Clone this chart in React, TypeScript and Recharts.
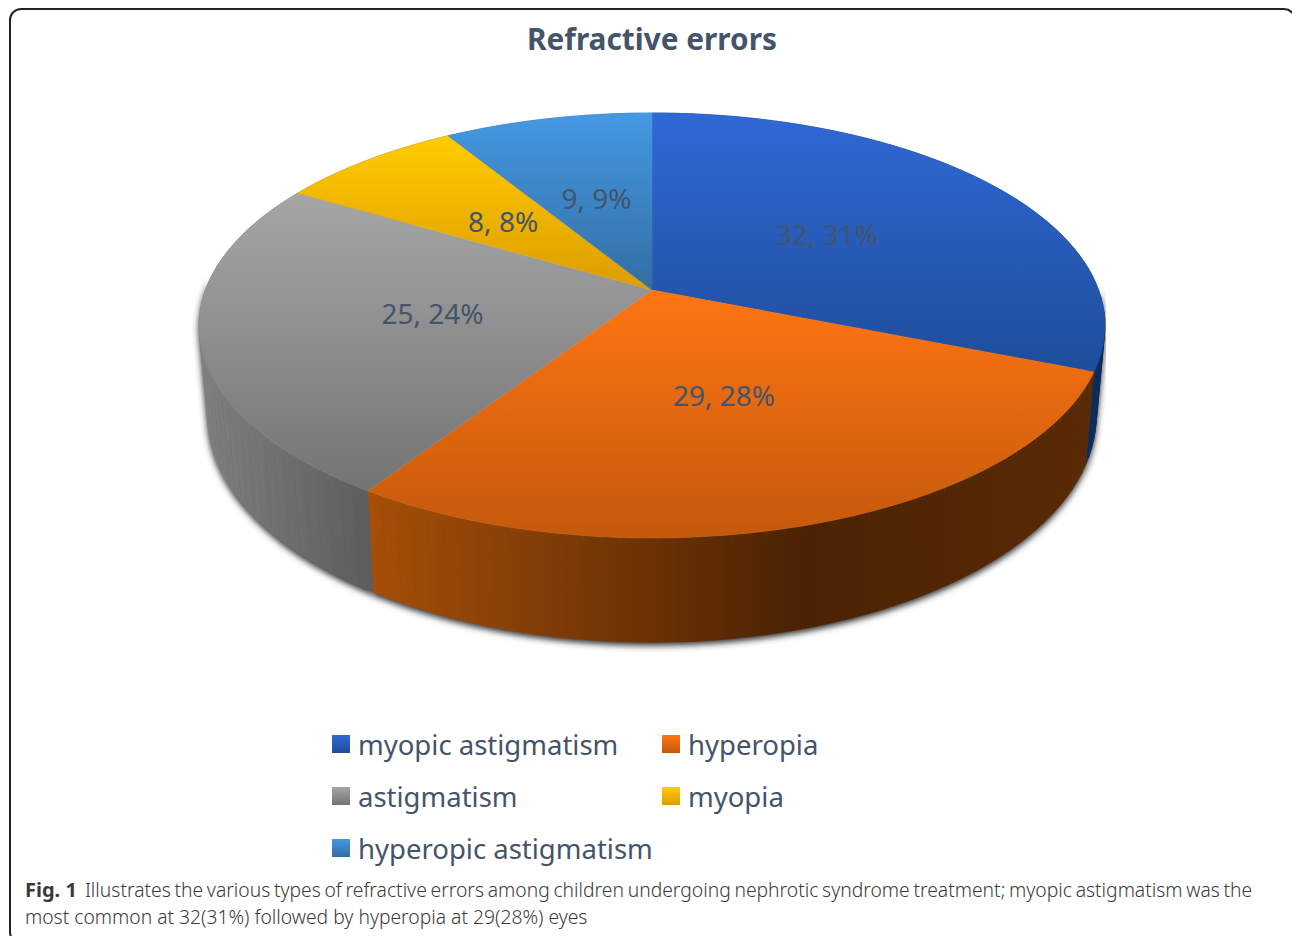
import React from 'react';
import { PieChart, Pie, Legend } from 'recharts';

const categories = ['myopic astigmatism', 'hyperopia', 'astigmatism', 'myopia', 'hyperopic astigmatism'];
const eyeCounts = [32, 29, 25, 8, 9];
const topStart = ['#2f69d6', '#ff7512', '#a6a6a6', '#ffcc00', '#4599e3'];
const topEnd = ['#1f4d9a', '#c4590c', '#747474', '#dc9c00', '#326ea3'];
const wallStops = [
  ['#0b2a5e', '#0b2a5e'],
  ['#a64f08', '#4b2203', '#5a2a05'],
  ['#808080', '#5c5c5c'],
  ['#a87c00', '#8a6400'],
  ['#2a6aa8', '#2a6aa8'],
];
// horizontal span of each slice's side wall, for its shading
const wallSpan = [[1085, 1106], [368, 1090], [200, 374], [290, 450], [450, 652]];
const caption1 = 'Illustrates the various types of refractive errors among children undergoing nephrotic syndrome treatment; myopic astigmatism was the';
const caption2 = 'most common at 32(31%) followed by hyperopia at 29(28%) eyes';

const pieData = categories.map((name, i) => ({ name, value: eyeCounts[i] }));
const font = '"Noto Sans", sans-serif';
const textColor = '#44546a';

// the pie is tilted in perspective, so the flat circle gets projected onto the page
const TILT = -0.167;
const SQUASH = 0.4626;
const project = (cx: number, cy: number, radius: number, theta: number, amount = 1) => {
  const rad = (theta * Math.PI) / 180;
  const u = Math.sin(rad) * amount;
  const v = -Math.cos(rad) * amount;
  const d = 1 + TILT * v;
  return { x: cx + (radius * u) / d, y: cy + (radius * SQUASH * v) / d };
};
const projectBase = (cx: number, cy: number, radius: number, theta: number) => {
  const p = project(cx, cy, radius, theta);
  return { x: cx + (p.x - cx) * 0.981, y: cy + (p.y - cy) * 1.066 + 88 };
};

const rim = (cx: number, cy: number, radius: number, from: number, to: number) => {
  const steps = Math.max(2, Math.ceil(Math.abs(to - from)));
  const out = [];
  for (let i = 0; i <= steps; i++) {
    const p = project(cx, cy, radius, from + ((to - from) * i) / steps);
    out.push(`${p.x.toFixed(2)} ${p.y.toFixed(2)}`);
  }
  return out;
};

const TopFace = (props: any) => {
  const { cx, cy, outerRadius, startAngle, endAngle, name } = props;
  const pts = rim(cx, cy, outerRadius, 90 - startAngle, 90 - endAngle);
  const paint = `url(#top${categories.indexOf(name)})`;
  return <path d={`M${cx} ${cy}L${pts.join('L')}Z`} fill={paint} stroke={paint} strokeWidth={0.5} />;
};

// side wall as small quads, the outline of one polygon would pinch where the two rims cross
const wallQuads = (props: any) => {
  const { cx, cy, outerRadius, startAngle, endAngle } = props;
  const from = 90 - startAngle;
  const to = 90 - endAngle;
  const steps = Math.max(1, Math.ceil((to - from) / 2));
  const quads: any[] = [];
  for (let i = 0; i < steps; i++) {
    const a = from + ((to - from) * i) / steps;
    const b = from + ((to - from) * (i + 1)) / steps;
    const p1 = project(cx, cy, outerRadius, a);
    const p2 = project(cx, cy, outerRadius, b);
    const p3 = projectBase(cx, cy, outerRadius, b);
    const p4 = projectBase(cx, cy, outerRadius, a);
    quads.push({ mid: (a + b) / 2, d: `M${p1.x} ${p1.y}L${p2.x} ${p2.y}L${p3.x} ${p3.y}L${p4.x} ${p4.y}Z` });
  }
  return quads;
};

const Wall = (props: any) => {
  const paint = `url(#wall${categories.indexOf(props.name)})`;
  return (
    <g>
      {wallQuads(props).map((q, i) => (
        <path key={i} d={q.d} fill={paint} stroke={paint} strokeWidth={0.5} />
      ))}
    </g>
  );
};

// only the front half throws a shadow, nothing shows round the back rim
const WallShadow = (props: any) => (
  <g filter="url(#baseShadow)">
    {wallQuads(props)
      .filter((q) => q.mid > 90 && q.mid < 272)
      .map((q, i) => (
        <path key={i} d={q.d} fill="#333" stroke="#333" strokeWidth={0.5} />
      ))}
  </g>
);

const renderLabel = (props: any) => {
  const { cx, cy, outerRadius, midAngle, value, percent } = props;
  const p = project(cx, cy, outerRadius, 90 - midAngle, 0.495);
  return (
    <text x={p.x} y={p.y - 1} fill={textColor} fontSize={28} fontFamily={font} textAnchor="middle" dominantBaseline="central">
      {`${value}, ${Math.round(percent * 100)}%`}
    </text>
  );
};

const renderLegend = () => (
  <div style={{ display: 'grid', gridTemplateColumns: '330px 200px', rowGap: 0, fontFamily: font, fontSize: 27.5, color: textColor }}>
    {categories.map((name, i) => (
      <div key={name} style={{ display: 'flex', alignItems: 'center', height: 52 }}>
        <span
          style={{
            width: 18,
            height: 18,
            marginRight: 8,
            background: `linear-gradient(${topStart[i]}, ${topEnd[i]})`,
          }}
        />
        {name}
      </div>
    ))}
  </div>
);

const pieProps = {
  data: pieData,
  dataKey: 'value',
  nameKey: 'name',
  cx: 652,
  cy: 290,
  outerRadius: 446.6,
  startAngle: 90,
  endAngle: -270,
  isAnimationActive: false,
};

export default function App() {
  return (
    <div style={{ position: 'absolute', left: 0, top: 0, width: 1292, height: 936, overflow: 'hidden', background: '#fff' }}>
      <div
        style={{
          position: 'absolute',
          left: 9,
          top: 8,
          width: 1283,
          height: 932,
          border: '2px solid #222',
          borderRadius: 12,
        }}
      />
      <div style={{ position: 'absolute', left: 0, width: 1304, top: 18, textAlign: 'center', fontFamily: font, fontWeight: 700, fontSize: 29.8, color: textColor }}>
        Refractive errors
      </div>
      <div style={{ position: 'absolute', left: 0, top: 0 }}>
        <PieChart width={1292} height={936} margin={{ top: 0, right: 0, bottom: 0, left: 0 }}>
          <defs>
            <filter id="baseShadow" x="-5%" y="-5%" width="110%" height="110%">
              <feGaussianBlur stdDeviation="3" />
              <feOffset dx="0" dy="3" />
            </filter>
            {categories.map((name, i) => (
              <linearGradient key={name} id={`top${i}`} x1="0" y1="0" x2="0" y2="1">
                <stop offset="0" stopColor={topStart[i]} />
                <stop offset="1" stopColor={topEnd[i]} />
              </linearGradient>
            ))}
            {categories.map((name, i) => (
              <linearGradient key={name} id={`wall${i}`} gradientUnits="userSpaceOnUse" x1={wallSpan[i][0]} y1="0" x2={wallSpan[i][1]} y2="0">
                {wallStops[i].map((c, j) => (
                  <stop key={j} offset={j === 1 && wallStops[i].length > 2 ? 0.6 : j / (wallStops[i].length - 1)} stopColor={c} />
                ))}
              </linearGradient>
            ))}
          </defs>
          <Pie {...pieProps} shape={WallShadow} legendType="none" />
          <Pie {...pieProps} shape={Wall} legendType="none" />
          <Pie {...pieProps} shape={TopFace} label={renderLabel} labelLine={false} />
          <Legend content={renderLegend} wrapperStyle={{ position: 'absolute', left: 332, top: 718, width: 540, height: 156 }} />
        </PieChart>
      </div>
      <div style={{ position: 'absolute', left: 25, top: 876, whiteSpace: 'pre', fontFamily: font, fontWeight: 300, fontSize: 19.3, wordSpacing: -1.3, color: '#3a3a3a' }}>
        <b style={{ fontWeight: 700, fontSize: 20, marginRight: 8, wordSpacing: 0 }}>Fig. 1</b>
        {caption1}
      </div>
      <div style={{ position: 'absolute', left: 25, top: 903, whiteSpace: 'pre', fontFamily: font, fontWeight: 300, fontSize: 19.3, color: '#3a3a3a' }}>
        {caption2}
      </div>
    </div>
  );
}
